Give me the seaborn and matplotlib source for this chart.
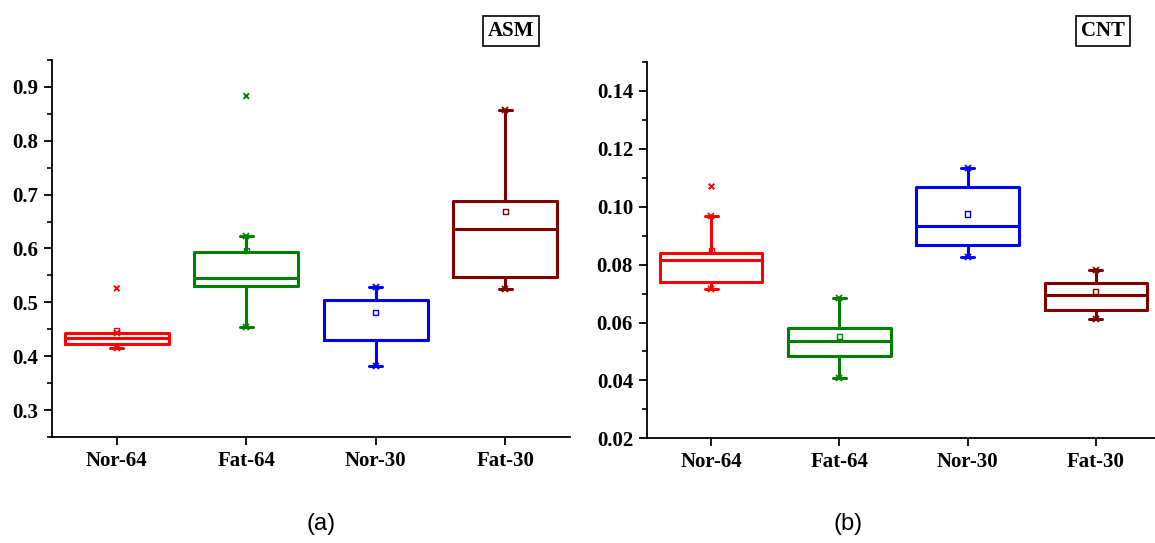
import matplotlib
matplotlib.use("Agg")
import matplotlib.pyplot as plt
from matplotlib.ticker import MultipleLocator, FormatStrFormatter
import seaborn as sns
import pandas as pd

sns.set_theme(style="ticks")
plt.rcParams['font.family'] = ['Liberation Serif', 'DejaVu Serif']
plt.rcParams['text.color'] = 'black'

categories = ["Nor-64", "Fat-64", "Nor-30", "Fat-30"]
colors = ["#ff0000", "#008000", "#0000ff", "#800000"]

# ASM panel (a)
asm_q1 = [0.422, 0.530, 0.430, 0.547]
asm_med = [0.433, 0.5455, 0.430, 0.637]
asm_q3 = [0.444, 0.593, 0.505, 0.689]
asm_lo = [0.416, 0.454, 0.381, 0.524]
asm_hi = [0.444, 0.6225, 0.529, 0.857]
asm_mean = [0.448, 0.596, 0.481, 0.668]
asm_out = [0.526, 0.883, None, None]

# CNT panel (b)
cnt_q1 = [0.0740, 0.0483, 0.0868, 0.0643]
cnt_med = [0.0815, 0.0536, 0.0935, 0.0694]
cnt_q3 = [0.0839, 0.0580, 0.1068, 0.0737]
cnt_lo = [0.0715, 0.0407, 0.0825, 0.0611]
cnt_hi = [0.0968, 0.0684, 0.1135, 0.0782]
cnt_mean = [0.0847, 0.0553, 0.0975, 0.0707]
cnt_out = [0.107, None, None, None]

fig = plt.figure(figsize=(11.55, 5.43), dpi=100)
W, H = 1155, 543
axA = fig.add_axes([52 / W, (H - 437) / H, 518 / W, 377 / H])
axB = fig.add_axes([647 / W, (H - 438.3) / H, 513 / W, 376.3 / H])

TICKFONT = dict(fontweight="bold", fontsize=15, family="Liberation Serif")


def draw(ax, q1, med, q3, lo, hi, mean, out, ylim, major, minor, fmt):
    for i in range(len(categories)):
        st = dict(q1=q1[i], med=med[i], q3=q3[i], whislo=lo[i], whishi=hi[i],
                  fliers=[], label=categories[i])
        c = colors[i]
        ax.bxp([st], positions=[i], widths=0.8, showfliers=False, showcaps=True,
               boxprops=dict(color=c, lw=2.2),
               medianprops=dict(color=c, lw=2.2),
               whiskerprops=dict(color=c, lw=2.2),
               capprops=dict(color=c, lw=2.2),
               capwidths=0.1, manage_ticks=False)
        # whisker end markers
        ax.plot([i, i], [lo[i], hi[i]], ls="none", marker="x", ms=4, mew=1.3, color=c)
    dfm = pd.DataFrame({"x": range(len(categories)), "y": mean, "c": categories})
    sns.scatterplot(data=dfm, x="x", y="y", hue="c", palette=colors, marker="s",
                    s=14, legend=False, ax=ax, linewidth=1.0)
    coll = ax.collections[-1]
    fc = coll.get_facecolors()
    coll.set_edgecolors(fc)
    coll.set_facecolors("none")
    ox = [i for i, v in enumerate(out) if v is not None]
    oy = [v for v in out if v is not None]
    dfo = pd.DataFrame({"x": ox, "y": oy, "c": [categories[i] for i in ox]})
    sns.scatterplot(data=dfo, x="x", y="y", hue="c",
                    palette=[colors[i] for i in ox], marker="x", s=16,
                    linewidth=1.4, legend=False, ax=ax)
    ax.set_xlim(-0.5, 3.5)
    ax.set_ylim(*ylim)
    ax.set_xticks(range(len(categories)))
    ax.set_xticklabels(categories, **TICKFONT)
    ax.yaxis.set_major_locator(MultipleLocator(major))
    ax.yaxis.set_minor_locator(MultipleLocator(minor))
    ax.yaxis.set_major_formatter(FormatStrFormatter(fmt))
    for t in ax.get_yticklabels():
        t.set_fontweight("bold")
        t.set_fontsize(15)
        t.set_family("Liberation Serif")
    ax.set_xlabel("")
    ax.set_ylabel("")
    sns.despine(ax=ax)
    for s in ["left", "bottom"]:
        ax.spines[s].set_linewidth(1.3)
        ax.spines[s].set_color("black")
    ax.tick_params(axis="both", which="major", direction="out", length=6, width=1.3,
                   colors="black", pad=4)
    ax.tick_params(axis="y", which="minor", direction="out", length=3.5, width=1.2,
                   colors="black")
    ax.set_facecolor("white")


draw(axA, asm_q1, asm_med, asm_q3, asm_lo, asm_hi, asm_mean, asm_out,
     (0.25, 0.95), 0.1, 0.05, "%.1f")
draw(axB, cnt_q1, cnt_med, cnt_q3, cnt_lo, cnt_hi, cnt_mean, cnt_out,
     (0.02, 0.15), 0.02, 0.01, "%.2f")

for x, txt in [(511, "ASM"), (1103, "CNT")]:
    fig.text(x / W, 1 - 31 / H, txt, ha="center", va="center", fontsize=15,
             fontweight="bold", family="Liberation Serif", color="black",
             bbox=dict(boxstyle="square,pad=0.25", fc="white", ec="black", lw=1.2))

fig.text(321 / W, 1 - 524 / H, "(a)", ha="center", va="center", fontsize=17,
         family="Liberation Sans", color="black")
fig.text(848 / W, 1 - 524 / H, "(b)", ha="center", va="center", fontsize=17,
         family="Liberation Sans", color="black")

fig.savefig("out.png", dpi=100, facecolor="white")
